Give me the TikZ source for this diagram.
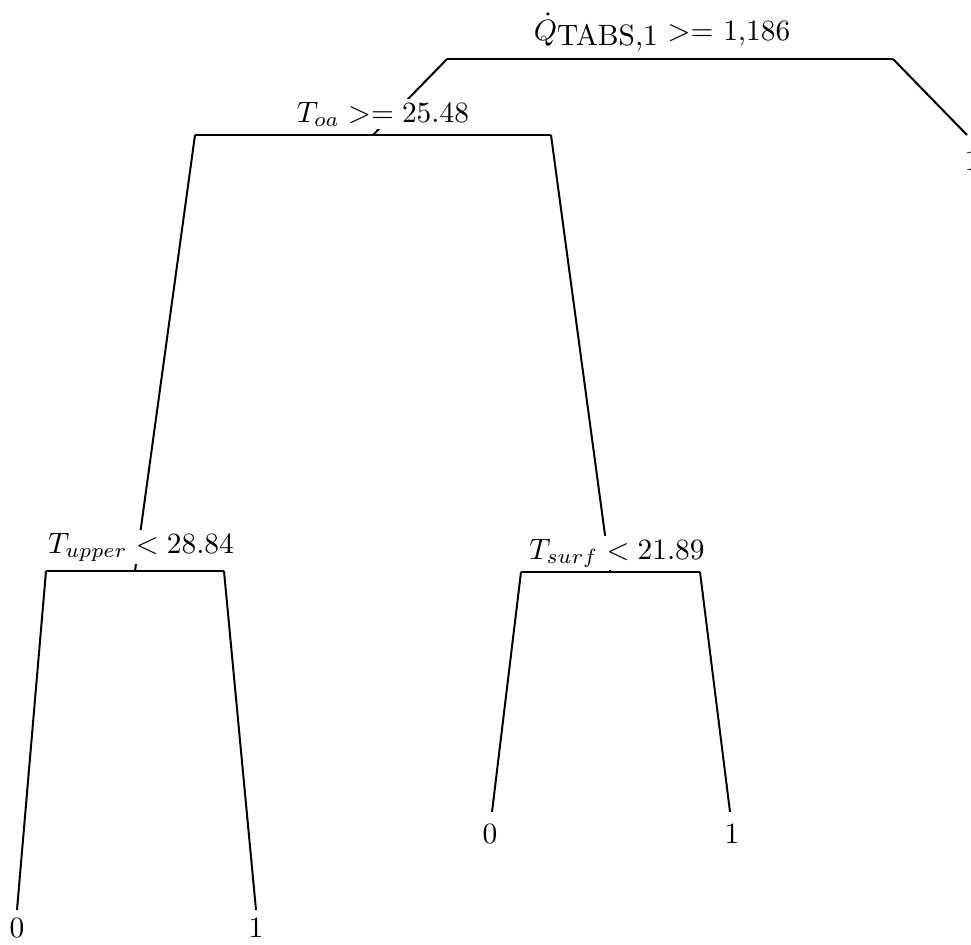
\documentclass[tikz,border=0pt]{standalone}
\begin{document}
\begin{tikzpicture}[x=0.34pt,y=-0.34pt,
  edge/.style={draw, line width=0.68pt},
  lab/.style={fill=white, inner sep=1pt, anchor=base},
  leaf/.style={inner sep=0pt, anchor=base}]
\useasboundingbox (0,0) rectangle (971,944);
% node points
\coordinate (r) at (670,59);
\coordinate (rl) at (447,59);
\coordinate (rr) at (893,59);
\coordinate (a) at (373,135);
\coordinate (al) at (195,135);
\coordinate (ar) at (551,135);
\coordinate (b) at (135,571);
\coordinate (bl) at (46,571);
\coordinate (br) at (224,571);
\coordinate (c) at (610,572);
\coordinate (cl) at (521,572);
\coordinate (cr) at (700,572);
\coordinate (e1) at (967,135);
\coordinate (f1) at (17,910);
\coordinate (f2) at (256,910);
\coordinate (g1) at (492,812);
\coordinate (g2) at (730,812);
% connectors
\path[edge] (rl) -- (rr);
\path[edge] (rl) -- (a);
\path[edge] (rr) -- (e1);
\path[edge] (al) -- (ar);
\path[edge] (al) -- (b);
\path[edge] (ar) -- (c);
\path[edge] (bl) -- (br);
\path[edge] (bl) -- (f1);
\path[edge] (br) -- (f2);
\path[edge] (cl) -- (cr);
\path[edge] (cl) -- (g1);
\path[edge] (cr) -- (g2);
% labels
\node[lab] (lr) at (662,40) {$\dot{Q}$\raisebox{-0.45ex}{TABS,1} $>=$ 1,186};
\node[lab] (la) at (383,122) {$T_{oa} >= 25.48$};
\node[lab] (lb) at (141,553) {$T_{upper} < 28.84$};
\node[lab] (lc) at (617,559) {$T_{surf} < 21.89$};
\node[leaf] (le1) at (972,170) {1};
\node[leaf] (lf1) at (17,937) {0};
\node[leaf] (lf2) at (256,937) {1};
\node[leaf] (lg1) at (490,843) {0};
\node[leaf] (lg2) at (732,843) {1};
\end{tikzpicture}
\end{document}
